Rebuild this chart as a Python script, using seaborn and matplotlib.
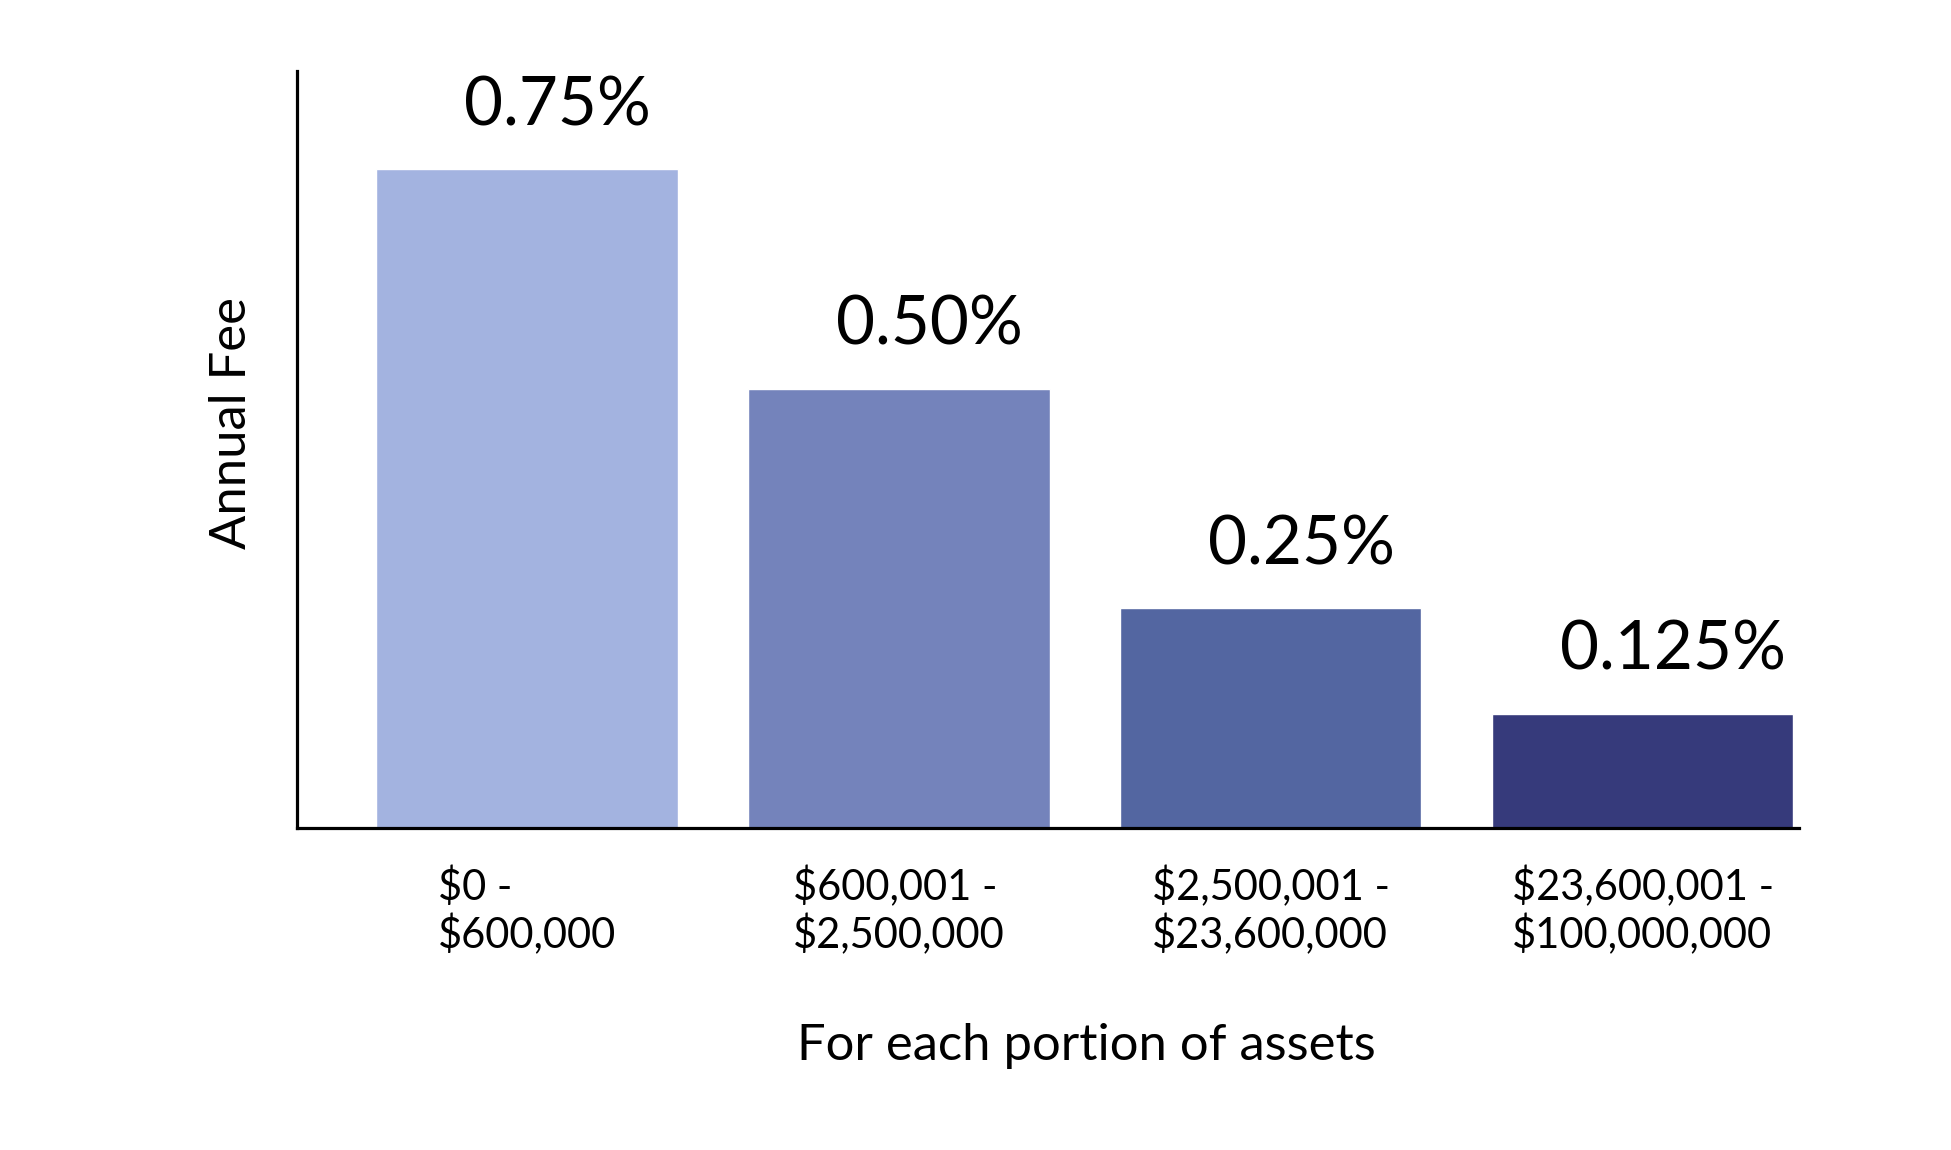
import matplotlib
matplotlib.use("Agg")
import matplotlib.pyplot as plt
import seaborn as sns
import pandas as pd

categories = ["$0 -\n$600,000", "$600,001 -\n$2,500,000",
              "$2,500,001 -\n$23,600,000", "$23,600,001 -\n$100,000,000"]
fees = [0.75, 0.50, 0.25, 0.13]
fee_labels = ["0.75%", "0.50%", "0.25%", "0.125%"]
colors = ["#A3B3E0", "#7483BB", "#5366A1", "#363A7B"]

sns.set_theme(style="white")
plt.rcParams["font.family"] = ["Lato", "DejaVu Sans"]

df = pd.DataFrame({"range": categories, "fee": fees})

fig = plt.figure(figsize=(19.51, 11.5), dpi=100)
ax = fig.add_axes([0.1520, 0.2800, 0.7700, 0.6583])
sns.barplot(data=df, x="range", y="fee", hue="range", palette=colors,
            width=0.81, dodge=False, legend=False, ax=ax, saturation=1)

ax.set_xlim(-0.62, 3.42)
ax.set_ylim(0, 0.862)

for sp in ["top", "right"]:
    ax.spines[sp].set_visible(False)
for sp in ["left", "bottom"]:
    ax.spines[sp].set_color("black")
    ax.spines[sp].set_linewidth(2.3)

ax.set_yticks([])
ax.tick_params(axis="x", length=0, pad=27.5, labelsize=30, labelcolor="black")
for t in ax.get_xticklabels():
    t.set_multialignment("left")

for p, lab in zip(ax.patches, fee_labels):
    ax.annotate(lab, (p.get_x() + p.get_width() / 2, p.get_height()),
                xytext=(22, 23), textcoords="offset points",
                ha="center", va="bottom", fontsize=48.5, color="black")

ax.set_xlabel("For each portion of assets", fontsize=36.5, color="black")
ax.xaxis.set_label_coords(0.526, -0.288)
ax.xaxis.label.set_va("center")
ax.set_ylabel("Annual Fee", fontsize=36.5, color="black")
ax.yaxis.set_label_coords(-0.0427, 0.535)
ax.yaxis.label.set_va("center")

fig.savefig("out.png", dpi=100, facecolor="white")
